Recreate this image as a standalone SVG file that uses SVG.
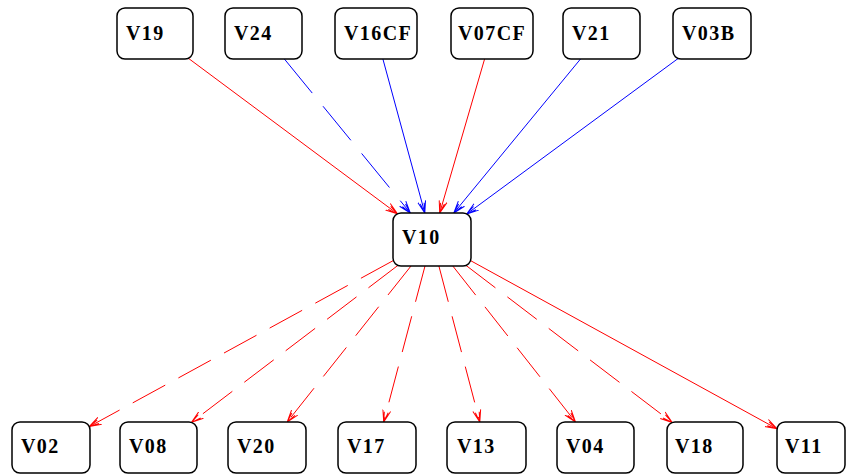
<svg xmlns="http://www.w3.org/2000/svg" width="846" height="475" viewBox="0 0 846 475">
<style>
.box{fill:#fff;stroke:#000;stroke-width:1.5}
.lbl{font-family:"Liberation Serif","Times New Roman",serif;font-weight:bold;font-size:20px;letter-spacing:1.4px;fill:#000}
.e{fill:none;stroke-width:1}
.r{stroke:#ff0000}
.b{stroke:#0000ff}
.dr{stroke-dasharray:37 15}
.db{stroke-dasharray:44 17}
</style>
<defs>
<marker id="ar" viewBox="0 0 12 10" refX="12" refY="5" markerWidth="12" markerHeight="10" markerUnits="userSpaceOnUse" orient="auto">
<path d="M0,1 L12,5 L0,9 M2,3 L12,5 L2,7" fill="none" stroke="#ff0000" stroke-width="1"/>
</marker>
<marker id="ab" viewBox="0 0 12 10" refX="12" refY="5" markerWidth="12" markerHeight="10" markerUnits="userSpaceOnUse" orient="auto">
<path d="M0,1 L12,5 L0,9 M2,3 L12,5 L2,7" fill="none" stroke="#0000ff" stroke-width="1"/>
</marker>
</defs>
<rect width="846" height="475" fill="#fff"/>
<g id="edges">
<line class="e r" x1="188.4" y1="58.3" x2="397.5" y2="213.9" marker-end="url(#ar)"/>
<line class="e b db" x1="284.4" y1="59" x2="410.3" y2="213" marker-end="url(#ab)"/>
<line class="e b" x1="382.9" y1="59" x2="424.8" y2="213" marker-end="url(#ab)"/>
<line class="e r" x1="484.6" y1="59" x2="439.7" y2="213" marker-end="url(#ar)"/>
<line class="e b" x1="580.5" y1="59" x2="453.8" y2="213" marker-end="url(#ab)"/>
<line class="e b" x1="678.1" y1="58.5" x2="466.7" y2="214" marker-end="url(#ab)"/>
<line class="e r dr" x1="393.4" y1="260.5" x2="89.3" y2="426.6" marker-end="url(#ar)"/>
<line class="e r dr" x1="397.9" y1="265.4" x2="191.5" y2="422.4" marker-end="url(#ar)"/>
<line class="e r dr" x1="411" y1="266" x2="287.2" y2="422" marker-end="url(#ar)"/>
<line class="e r dr" x1="425" y1="266" x2="383.7" y2="422" marker-end="url(#ar)"/>
<line class="e r dr" x1="438.9" y1="266" x2="479.8" y2="422" marker-end="url(#ar)"/>
<line class="e r dr" x1="452.8" y1="266" x2="575.5" y2="422" marker-end="url(#ar)"/>
<line class="e r dr" x1="466" y1="265.4" x2="672.2" y2="422.5" marker-end="url(#ar)"/>
<line class="e r" x1="470.7" y1="260.7" x2="777" y2="428.8" marker-end="url(#ar)"/>
</g>
<g id="V19"><rect class="box" x="117" y="8" width="76" height="51" rx="8"/><text class="lbl" x="126" y="40">V19</text></g>
<g id="V24"><rect class="box" x="225" y="8" width="77" height="51" rx="8"/><text class="lbl" x="234" y="40">V24</text></g>
<g id="V16CF"><rect class="box" x="335" y="8" width="82" height="51" rx="8"/><text class="lbl" x="344" y="40">V16CF</text></g>
<g id="V07CF"><rect class="box" x="451" y="8" width="82" height="51" rx="8"/><text class="lbl" x="458" y="40">V07CF</text></g>
<g id="V21"><rect class="box" x="563" y="8" width="77" height="51" rx="8"/><text class="lbl" x="572" y="40">V21</text></g>
<g id="V03B"><rect class="box" x="673" y="8" width="78" height="51" rx="8"/><text class="lbl" x="682" y="40">V03B</text></g>
<g id="V10"><rect class="box" x="393" y="213" width="78" height="53" rx="8"/><text class="lbl" x="402" y="244">V10</text></g>
<g id="V02"><rect class="box" x="12" y="422" width="78" height="51" rx="8"/><text class="lbl" x="21" y="453">V02</text></g>
<g id="V08"><rect class="box" x="120" y="422" width="77" height="51" rx="8"/><text class="lbl" x="129" y="453">V08</text></g>
<g id="V20"><rect class="box" x="228" y="422" width="78" height="51" rx="8"/><text class="lbl" x="237" y="453">V20</text></g>
<g id="V17"><rect class="box" x="338" y="422" width="78" height="51" rx="8"/><text class="lbl" x="347" y="453">V17</text></g>
<g id="V13"><rect class="box" x="447" y="422" width="79" height="51" rx="8"/><text class="lbl" x="457" y="453">V13</text></g>
<g id="V04"><rect class="box" x="557" y="422" width="77" height="51" rx="8"/><text class="lbl" x="566" y="453">V04</text></g>
<g id="V18"><rect class="box" x="667" y="422" width="76" height="51" rx="8"/><text class="lbl" x="675" y="453">V18</text></g>
<g id="V11"><rect class="box" x="777" y="422" width="68" height="51" rx="8"/><text class="lbl" x="785" y="453">V11</text></g>
</svg>
